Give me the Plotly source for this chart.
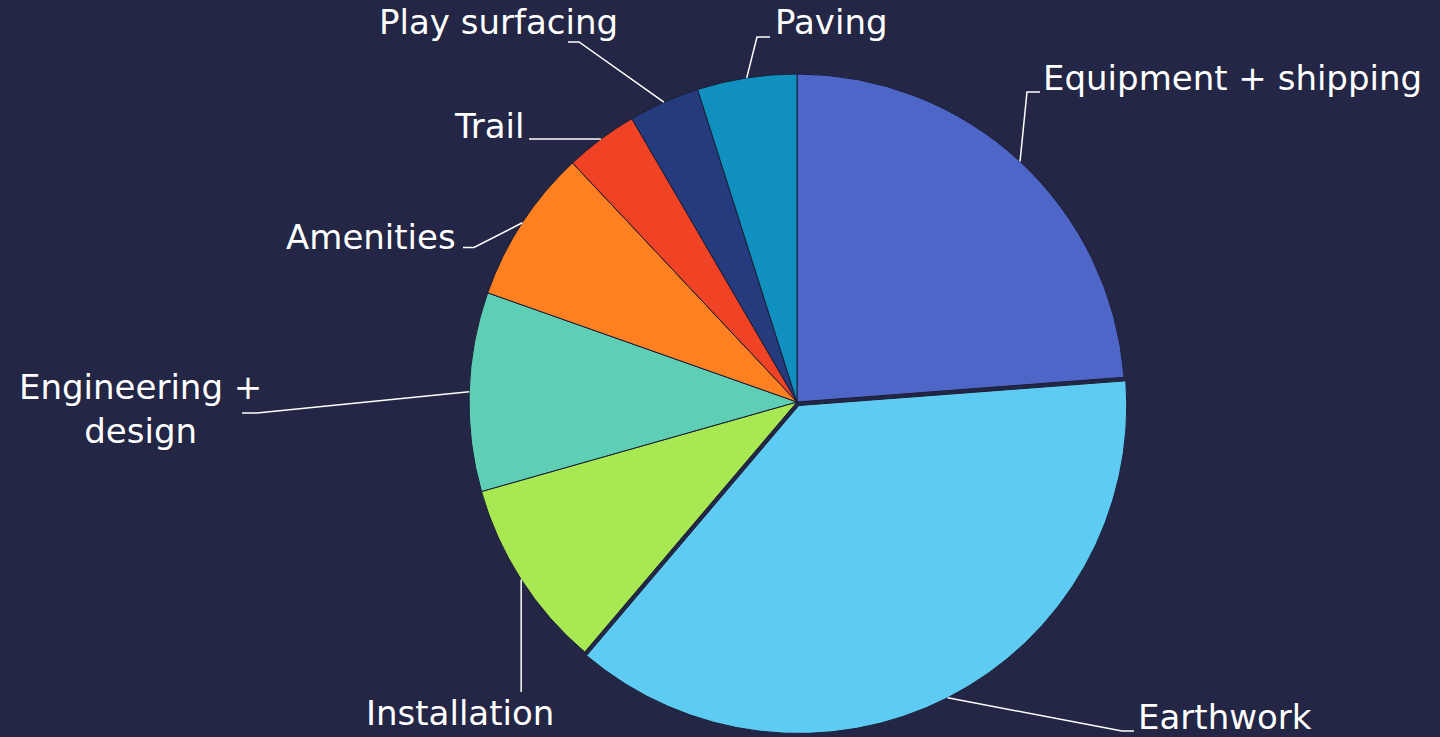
import math
import plotly.graph_objects as go

# ---- data ----
labels = ["Equipment + shipping", "Earthwork", "Installation", "Engineering + design",
          "Amenities", "Trail", "Play surfacing", "Paving"]
label_text = ["Equipment + shipping", "Earthwork", "Installation", "Engineering +<br>design",
              "Amenities", "Trail", "Play surfacing", "Paving"]
values = [23.8, 37.4, 9.4, 9.8, 7.6, 3.6, 3.5, 4.9]

# ---- style / layout ----
colors = ["#4F66C9", "#5ECBF3", "#A8E953", "#5ECFB5", "#FF8021", "#F04326", "#263A7E", "#1090BF"]
pulls = [0, 0.012, 0, 0, 0, 0, 0, 0]
BG = "#232644"
W, H = 1440, 737
CX, CY, R = 797, 402, 328          # pie centre and radius in pixels
FONT = dict(family="DejaVu Sans", size=34, color="white")

# label placement (pixels): text anchor, alignment, leader path after the slice point
label_pos = {
    "Equipment + shipping": dict(tx=1041, ty=78, xa="left", path=[(1027, 92), (1040, 92)]),
    "Earthwork":            dict(tx=1136, ty=717, xa="left", path=[(1122, 731), (1134, 731)]),
    "Installation":         dict(tx=460, ty=713, xa="center", path=[(None, 692)]),
    "Engineering + design": dict(tx=140, ty=409, xa="center", path=[(257, 413), (242, 413)]),
    "Amenities":            dict(tx=458, ty=237, xa="right", path=[(474, 247.5), (463, 247.5)]),
    "Trail":                dict(tx=526, ty=126, xa="right", path=[(529, 139)]),
    "Play surfacing":       dict(tx=620, ty=22, xa="right", path=[(579, 42), (568, 42)]),
    "Paving":               dict(tx=773, ty=22, xa="left", path=[(757, 37), (770, 37)]),
}

maxpull = max(pulls)
half = R * (1 + maxpull)
domain_x = [(CX - half) / W, (CX + half) / W]
domain_y = [1 - (CY + half) / H, 1 - (CY - half) / H]

fig = go.Figure(go.Pie(
    labels=labels, values=values, sort=False, direction="clockwise", rotation=0,
    marker=dict(colors=colors, line=dict(color="#1B1E36", width=1)),
    pull=pulls, textinfo="none", hoverinfo="label+percent",
    domain=dict(x=domain_x, y=domain_y), showlegend=False,
))

def px2paper(x, y):
    return x / W, 1 - y / H

total = sum(values)
cum = 0.0
shapes, annotations = [], []
for lab, txt, v, p in zip(labels, label_text, values, pulls):
    mid = (cum + v / 2) / total * 2 * math.pi
    cum += v
    rr = R * (1 + p)
    sx = CX + rr * math.sin(mid)
    sy = CY - rr * math.cos(mid)
    lp = label_pos[lab]
    pts = [(sx, sy)] + [((sx if x is None else x), y) for x, y in lp["path"]]
    path = ""
    for i, (x, y) in enumerate(pts):
        X, Y = px2paper(x, y)
        path += ("M" if i == 0 else " L") + f" {X:.5f},{Y:.5f}"
    shapes.append(dict(type="path", path=path, xref="paper", yref="paper",
                       line=dict(color="white", width=1.5)))
    ax, ay = px2paper(lp["tx"], lp["ty"])
    annotations.append(dict(text=txt, x=ax, y=ay, xref="paper", yref="paper",
                            xanchor=lp["xa"], yanchor="middle", align="center",
                            showarrow=False, font=FONT))

fig.update_layout(
    width=W, height=H, margin=dict(l=0, r=0, t=0, b=0),
    paper_bgcolor=BG, plot_bgcolor=BG,
    shapes=shapes, annotations=annotations, font=FONT,
)

fig.write_html("out.html", config={"displayModeBar": False},
               post_script="document.body.style.margin='0';document.body.style.overflow='hidden';")
